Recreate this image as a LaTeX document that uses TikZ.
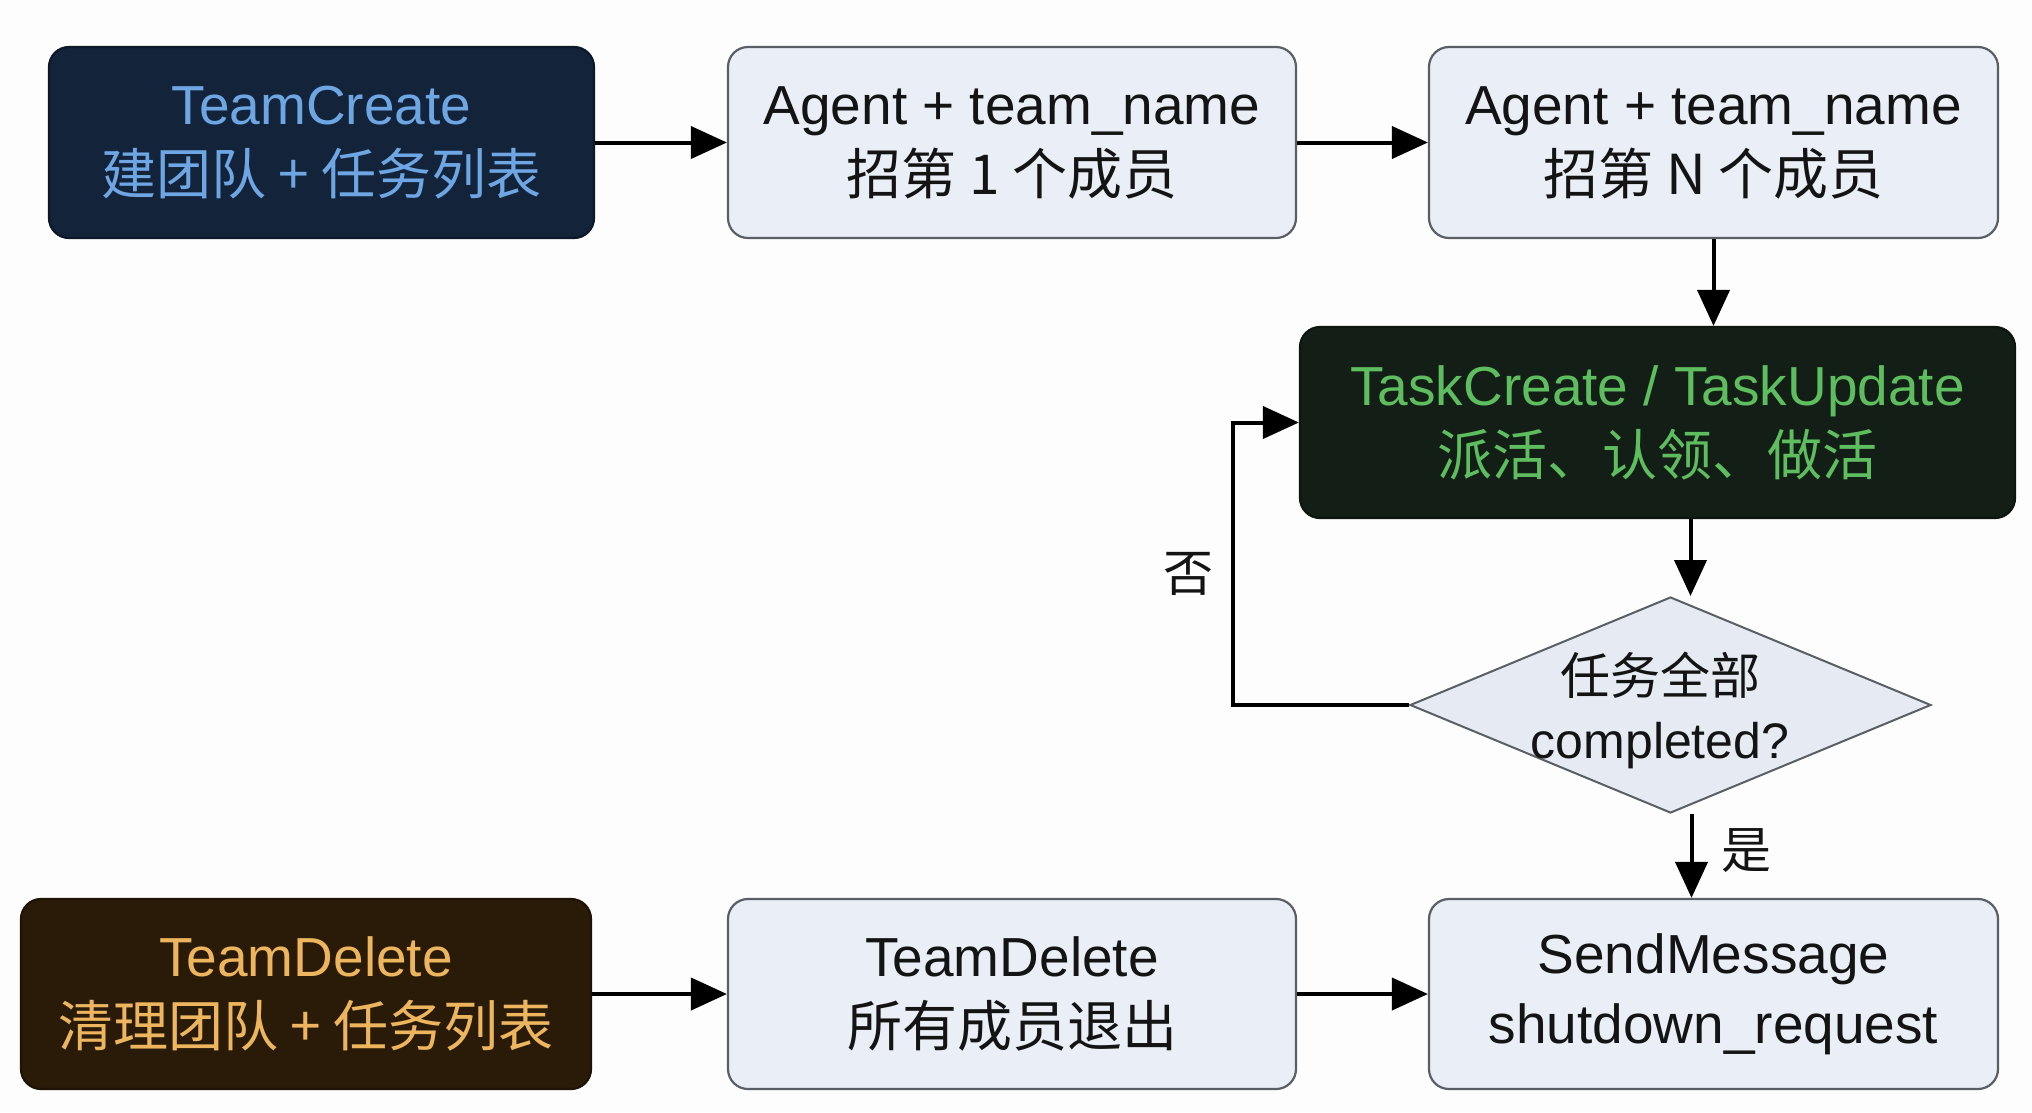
\documentclass[tikz,border=0pt]{standalone}
\usepackage{fontspec}
\setmainfont{Liberation Sans}
\newfontfamily\cjk{Noto Sans CJK SC}
\usetikzlibrary{arrows.meta,shapes.geometric,calc}
\definecolor{bg}{HTML}{FDFDFD}
\definecolor{navyfill}{HTML}{13233A}
\definecolor{navytext}{HTML}{6EA6E3}
\definecolor{greenfill}{HTML}{131F16}
\definecolor{greentext}{HTML}{5EBD5E}
\definecolor{brownfill}{HTML}{2A1B08}
\definecolor{browntext}{HTML}{EDB65E}
\definecolor{lightfill}{HTML}{EAEFF7}
\definecolor{lightborder}{HTML}{5A5F66}
\definecolor{diafill}{HTML}{E5EAF3}
\tikzset{
  box/.style={rectangle, rounded corners=20pt, draw=lightborder, line width=2.2pt,
    inner sep=0pt, align=center, font=\fontsize{55}{70}\selectfont},
  lightbox/.style={box, fill=lightfill, text=black!92},
  navybox/.style={box, fill=navyfill, draw=navyfill!70!black, text=navytext},
  greenbox/.style={box, fill=greenfill, draw=greenfill!70!black, text=greentext},
  brownbox/.style={box, fill=brownfill, draw=brownfill!70!black, text=browntext},
  arr/.style={line width=4pt, -{Triangle[length=36pt,width=32pt]}},
  lbl/.style={font=\cjk\fontsize{50}{60}\selectfont, text=black!92}
}
\begin{document}
\begin{tikzpicture}[x=1pt,y=-1pt]
\fill[bg] (0,0) rectangle (2032,1112);
\useasboundingbox (0,0) rectangle (2032,1112);

\node[navybox, minimum width=545pt, minimum height=191pt] (tc) at (321.5,142.5)
  {TeamCreate\\{\cjk 建团队 + 任务列表}};
\node[lightbox, minimum width=568pt, minimum height=191pt] (a1) at (1012,142.5)
  {Agent + team\_name\\{\cjk 招第 1 个成员}};
\node[lightbox, minimum width=569pt, minimum height=191pt] (an) at (1713.5,142.5)
  {Agent + team\_name\\{\cjk 招第 N 个成员}};
\node[greenbox, minimum width=715pt, minimum height=191pt] (task) at (1657.5,422.5)
  {TaskCreate / TaskUpdate\\{\cjk 派活、认领、做活}};
\node[diamond, draw=lightborder, line width=2pt, fill=diafill, inner sep=0pt,
  minimum width=521pt, minimum height=216pt] (dia) at (1670.5,705) {};
\node[align=center, font=\fontsize{50}{64}\selectfont, text=black!92] (dialbl) at (1660,710)
  {{\cjk 任务全部}\\completed?};
\node[lightbox, minimum width=569pt, minimum height=190pt] (sm) at (1713.5,994)
  {SendMessage\\shutdown\_request};
\node[lightbox, minimum width=568pt, minimum height=190pt] (td2) at (1012,994)
  {TeamDelete\\{\cjk 所有成员退出}};
\node[brownbox, minimum width=570pt, minimum height=190pt] (td) at (306,994)
  {TeamDelete\\{\cjk 清理团队 + 任务列表}};

\draw[arr] (tc.east) -- (a1.west);
\draw[arr] (a1.east) -- (an.west);
\draw[arr] (an.south) -- (an.south |- task.north);
\draw[arr] ([xshift=33pt]task.south) -- ([xshift=33pt]task.south |- dia.north);
\draw[arr] ([xshift=21pt]dia.south) -- ([xshift=21pt]dia.south |- sm.north);
\draw[arr] (dia.west) -- ++(-176,0) coordinate (loopc) |- (task.west);
\draw[arr] (td.east) -- (td2.west);
\draw[arr] (td2.east) -- (sm.west);

\node[lbl] (no) at (1188,574) {否};
\node[lbl] (yes) at (1746,851) {是};
\end{tikzpicture}
\end{document}
